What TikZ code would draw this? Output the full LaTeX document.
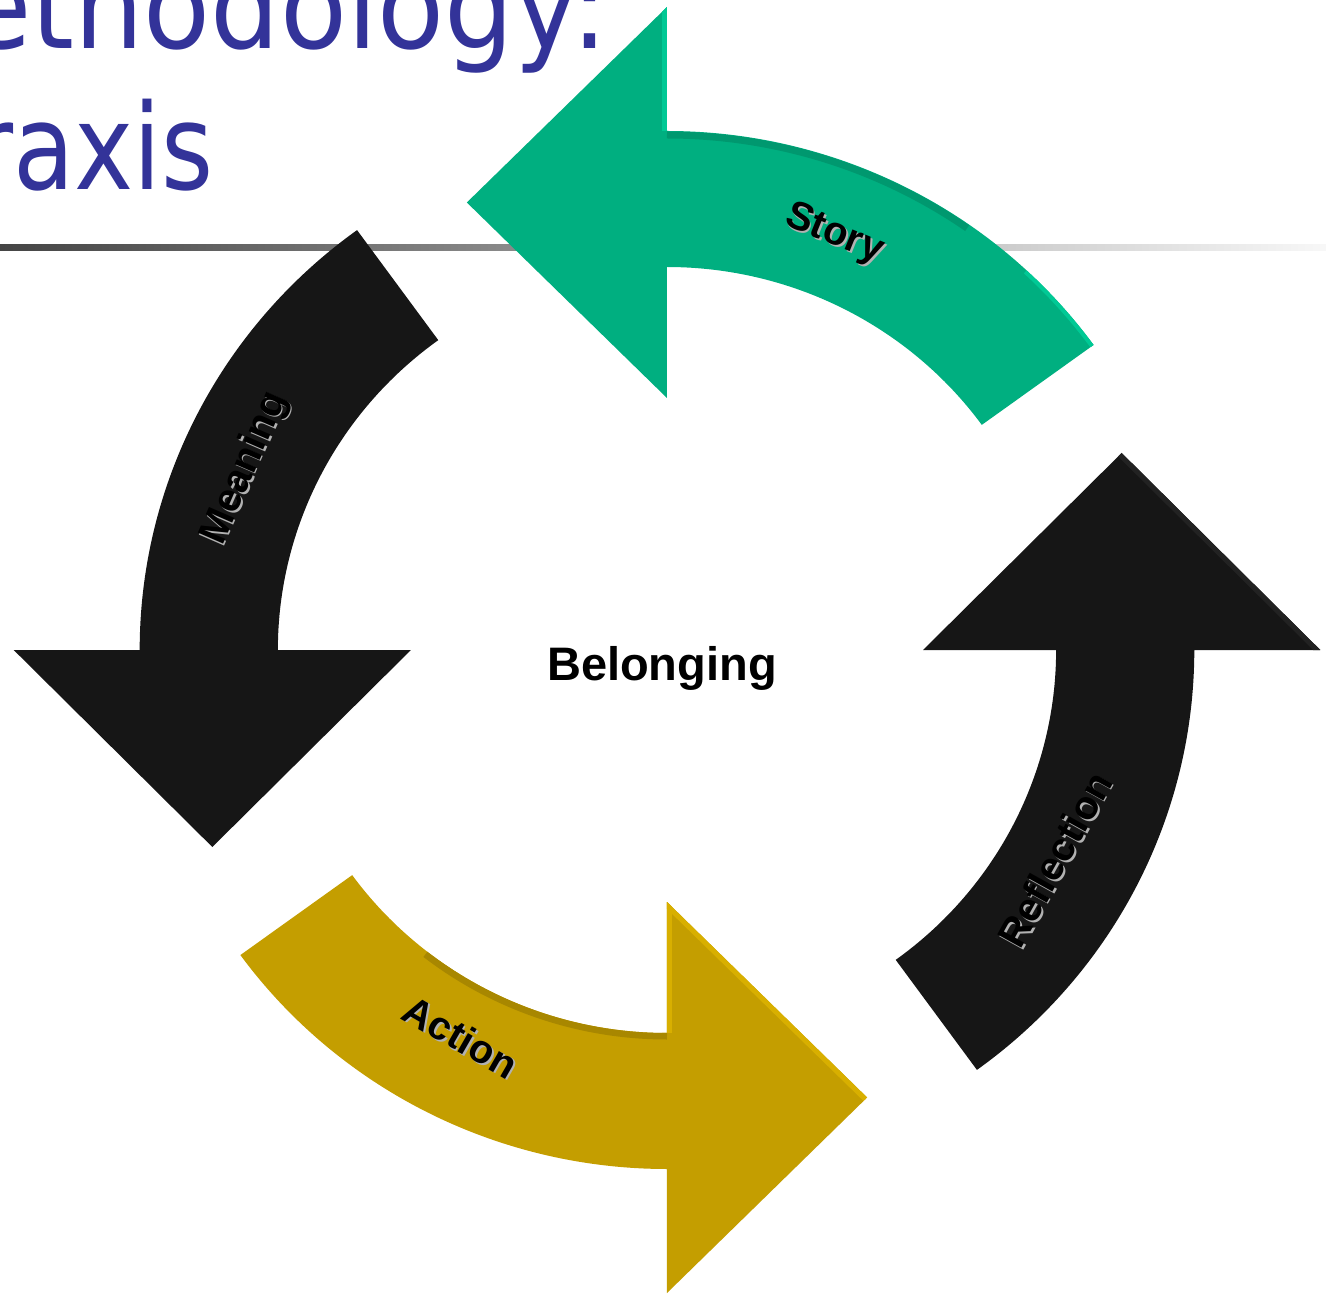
\documentclass[tikz,border=0pt]{standalone}
\usepackage{fontspec}
\setmainfont{Liberation Sans}
\newfontfamily\titlefont{DejaVu Sans}
\usetikzlibrary{calc}
\definecolor{titleblue}{HTML}{333399}
\definecolor{storygreen}{HTML}{00AF80}
\definecolor{storylight}{HTML}{00C995}
\definecolor{storydark}{HTML}{00986F}
\definecolor{actiongold}{HTML}{C49E00}
\definecolor{actionlight}{HTML}{D8AF00}
\definecolor{actiondark}{HTML}{A88700}
\definecolor{darkarrow}{HTML}{161616}
\definecolor{darkedge}{HTML}{222222}
\newcommand\arwshape{(36:519) arc[start angle=36,end angle=90,radius=519] -- ++(0,124) -- ++(-197,-195.5) -- ++(197,-195.5) -- ++(0,131) arc[start angle=90,end angle=36,radius=383] -- cycle}
\begin{document}
\begin{tikzpicture}[x=1pt,y=1pt,
  lbl/.style={font=\fontsize{40}{40}\selectfont\bfseries, inner sep=0pt},
  lblshadow/.style={lbl, text=black!30},
  titletext/.style={font=\titlefont\fontsize{119}{119}\selectfont, text=titleblue, inner sep=0pt, anchor=base east},
  bevel/.style={line width=10}]
\useasboundingbox (-666,-645) rectangle (660,651);
\clip (-666,-645) rectangle (660,651);
% title
\node[titletext] (title1) at (-58,602) {\scalebox{0.92}[1]{ethodology:}};
\node[titletext] (title2) at (-452,461) {\scalebox{0.84}[1]{raxis}};
\shade[left color=black!73, right color=black!3] (-666,400) rectangle (660,406);
\begin{scope}[shift={(1,1)}, xscale=1.016]
% Story (green)
\fill[storygreen] \arwshape;
\begin{scope}
  \clip \arwshape;
  \draw[storylight, bevel] (0,519) -- (0,643);
  \draw[storylight, line width=8] (36:519) arc[start angle=36,end angle=47,radius=519];
  \draw[storydark, line width=7] (90:515) arc[start angle=90,end angle=55,radius=515];
\end{scope}
% Meaning (black, left)
\fill[darkarrow, rotate=90] \arwshape;
% Action (gold)
\fill[actiongold, rotate=180] \arwshape;
\begin{scope}
  \clip[rotate=180] \arwshape;
  \draw[actionlight, bevel] (0,-252) -- (197,-447.5);
  \draw[actionlight, bevel] (0,-252) -- (0,-383);
  \draw[actiondark, line width=7] (270:386) arc[start angle=270,end angle=232,radius=386];
\end{scope}
% Reflection (black, right)
\fill[darkarrow, rotate=270] \arwshape;
\begin{scope}
  \clip[rotate=270] \arwshape;
  \draw[darkedge, bevel] (447.5,197) -- (643,0);
\end{scope}
\end{scope}
% labels
\node[lblshadow, rotate=-22] (storys) at ($(68:449)+(1.8,-1.8)$) {Story};
\node[lbl, rotate=-22] (story) at (68:449) {Story};
\node[lblshadow, rotate=66.5] (meanings) at ($(156.5:459)+(1.8,-1.8)$) {Meaning};
\node[lbl, rotate=66.5] (meaning) at (156.5:459) {Meaning};
\node[lblshadow, rotate=-30] (actions) at ($(242:437)+(1.8,-1.8)$) {Action};
\node[lbl, rotate=-30] (action) at (242:437) {Action};
\node[lblshadow, rotate=61] (reflections) at ($(-28.2:441)+(1.8,-1.8)$) {Reflection};
\node[lbl, rotate=61] (reflection) at (-28.2:441) {Reflection};
\node[font=\fontsize{47}{47}\selectfont\bfseries, inner sep=0pt, anchor=base] (belonging) at (-4,-29) {Belonging};
\end{tikzpicture}
\end{document}
